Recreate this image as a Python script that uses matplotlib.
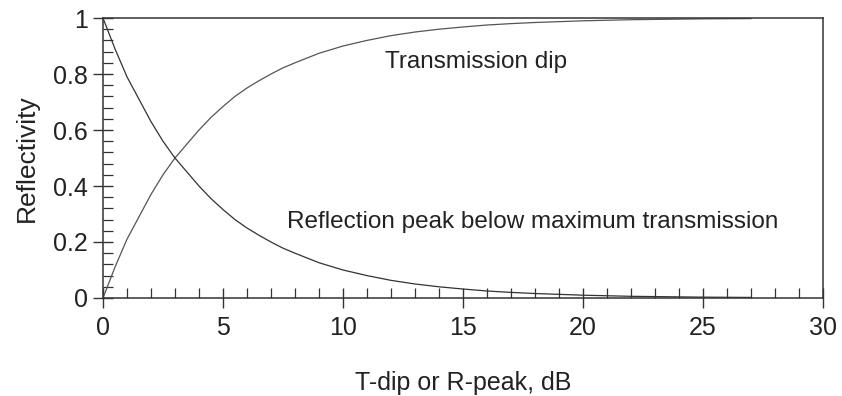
import matplotlib.pyplot as plt
from matplotlib.ticker import MultipleLocator

plt.rcParams['font.family'] = ['Liberation Sans', 'DejaVu Sans']

# dip / peak depth in dB
depth_db = [0, 0.5, 1, 1.5, 2, 2.5, 3, 3.5, 4, 4.5, 5, 5.5, 6, 6.5, 7, 7.5, 8, 9,
            10, 11, 12, 13, 14, 15, 16, 17, 18, 19, 20, 21, 22, 23, 24, 25, 26, 27]

# reflectivity
transmission_dip = [0.0, 0.11, 0.21, 0.29, 0.37, 0.44, 0.50, 0.55, 0.60, 0.645,
                    0.684, 0.72, 0.75, 0.776, 0.80, 0.822, 0.84, 0.874,
                    0.90, 0.92, 0.937, 0.95, 0.96, 0.968, 0.975, 0.98, 0.984,
                    0.987, 0.99, 0.992, 0.994, 0.995, 0.996, 0.997, 0.9975, 0.998]
reflection_peak = [1.0, 0.89, 0.79, 0.71, 0.63, 0.56, 0.50, 0.45, 0.40, 0.355,
                   0.316, 0.28, 0.25, 0.224, 0.20, 0.178, 0.16, 0.126,
                   0.10, 0.08, 0.063, 0.05, 0.04, 0.032, 0.025, 0.02, 0.016,
                   0.013, 0.010, 0.008, 0.006, 0.005, 0.004, 0.003, 0.0025, 0.002]

fig = plt.figure(figsize=(8.42, 3.96), dpi=100)
ax = fig.add_axes([0.1223, 0.2475, 0.8551, 0.707])

ax.plot(depth_db, transmission_dip, color='#555555', lw=0.9)
ax.plot(depth_db, reflection_peak, color='#333333', lw=0.9)

ax.text(11.75, 0.843, 'Transmission dip', fontsize=17.5, color='#222222', va='center')
ax.text(7.67, 0.27, 'Reflection peak below maximum transmission', fontsize=17.5,
        color='#222222', va='center')

ax.set_xlim(0, 30)
ax.set_ylim(0, 1)
ax.xaxis.set_major_locator(MultipleLocator(5))
ax.xaxis.set_minor_locator(MultipleLocator(1))
ax.yaxis.set_minor_locator(MultipleLocator(0.04))
ax.set_yticks([0, 0.2, 0.4, 0.6, 0.8, 1.0])
ax.set_yticklabels(['0', '0.2', '0.4', '0.6', '0.8', '1'])

ax.tick_params(which='major', direction='inout', length=14, width=1.0,
               color='#333333', labelsize=18, labelcolor='#222222', pad=4)
ax.tick_params(which='minor', direction='in', length=7, width=0.9, color='#333333')
ax.tick_params(axis='x', which='major', pad=6)

for side in ax.spines.values():
    side.set_color('#333333')
    side.set_linewidth(1.1)

ax.set_xlabel('T-dip or R-peak, dB', fontsize=18, color='#222222', labelpad=22)
ax.set_ylabel('Reflectivity', fontsize=19, color='#222222', labelpad=10)

fig.savefig('out.png', dpi=100)
